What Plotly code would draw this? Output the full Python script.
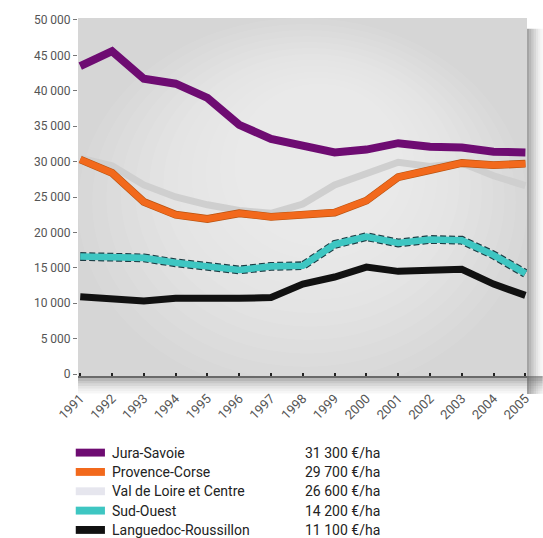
import plotly.graph_objects as go

years = list(range(1991, 2006))
series_names = ["Jura-Savoie", "Provence-Corse", "Val de Loire et Centre", "Sud-Ouest", "Languedoc-Roussillon"]
jura = [43500, 45600, 41700, 41000, 39000, 35200, 33200, 32200, 31300, 31700, 32600, 32100, 32000, 31400, 31300]
provence = [30300, 28400, 24300, 22500, 21900, 22700, 22200, 22400, 22800, 24500, 27800, 28800, 29800, 29500, 29700]
val_loire = [30500, 29400, 26700, 25000, 23900, 23100, 22700, 24000, 26700, 28300, 29900, 29300, 29800, 28000, 26600]
sud_ouest = [16600, 16500, 16400, 15700, 15200, 14700, 15200, 15300, 18300, 19400, 18500, 19000, 18900, 16800, 14200]
languedoc = [10900, 10700, 10300, 10700, 10600, 10700, 10800, 12700, 13700, 15100, 14500, 14700, 14800, 12700, 11100]
y_ticks = list(range(0, 50001, 5000))
colors = ["#6e0c72", "#f2691c", "#cfcfcf", "#3ec6c2", "#111111"]

def fmt(v):
    return f"{v:,}".replace(",", " ")

FONT = "Roboto, DejaVu Sans, sans-serif"

fig = go.Figure()

fig.add_trace(go.Scatter(x=years, y=val_loire, mode="lines",
                         line=dict(color=colors[2], width=7), hoverinfo="skip"))
fig.add_trace(go.Scatter(x=years, y=provence, mode="lines",
                         line=dict(color="#b9520f", width=7.8), hoverinfo="skip"))
fig.add_trace(go.Scatter(x=years, y=provence, mode="lines",
                         line=dict(color=colors[1], width=6.6), hoverinfo="skip"))
fig.add_trace(go.Scatter(x=years, y=languedoc, mode="lines",
                         line=dict(color=colors[4], width=7), hoverinfo="skip"))
fig.add_trace(go.Scatter(x=years, y=sud_ouest, mode="lines",
                         line=dict(color="#1d3d44", width=8.8, dash="6px,3px"), hoverinfo="skip"))
fig.add_trace(go.Scatter(x=years, y=sud_ouest, mode="lines",
                         line=dict(color=colors[3], width=6.6), hoverinfo="skip"))
fig.add_trace(go.Scatter(x=years, y=jura, mode="lines",
                         line=dict(color=colors[0], width=8), hoverinfo="skip"))

# soft lighter glow in the plot centre
n = 12
for k in range(n):
    f = k / n
    fig.add_shape(type="circle", xref="paper", yref="paper",
                  x0=0.0 + 0.38 * f, x1=1.0 - 0.30 * f,
                  y0=-0.05 + 0.45 * f, y1=1.0 - 0.2 * f,
                  fillcolor="white", opacity=0.07, line_width=0, layer="below")

# shadow right and bottom (soft gradient)
steps = [0.5, 0.4, 0.3, 0.22, 0.15, 0.09, 0.05]
for i, op in enumerate(steps):
    fig.add_shape(type="rect", xref="paper", yref="paper",
                  x0=1.0 + i * 0.005, x1=1.0 + (i + 1) * 0.005, y0=-0.05, y1=0.97,
                  fillcolor="#4a4a4a", opacity=op, line_width=0, layer="below")
    fig.add_shape(type="rect", xref="paper", yref="paper",
                  x0=0.0, x1=1.0 + (len(steps)) * 0.005, y0=-(i + 1) * 0.007, y1=-i * 0.007,
                  fillcolor="#4a4a4a", opacity=op, line_width=0, layer="below")

# legend built from the series
row_y0 = -0.214
row_step = 0.054
data_all = [jura, provence, val_loire, sud_ouest, languedoc]
for i, (name, col, data) in enumerate(zip(series_names, colors, data_all)):
    yc = row_y0 - i * row_step
    fig.add_shape(type="rect", xref="paper", yref="paper",
                  x0=-0.005, x1=0.06, y0=yc - 0.011, y1=yc + 0.011,
                  fillcolor=("#e6e6ee" if i == 2 else col), line_width=0)
    fig.add_annotation(xref="paper", yref="paper", x=0.072, y=yc, text=name,
                       showarrow=False, xanchor="left", yanchor="middle",
                       font=dict(family=FONT, size=14, color="#222222"))
    fig.add_annotation(xref="paper", yref="paper", x=0.502, y=yc,
                       text=f"{fmt(data[-1])} €/ha",
                       showarrow=False, xanchor="left", yanchor="middle",
                       font=dict(family=FONT, size=14, color="#222222"))

fig.update_layout(
    width=543, height=538,
    margin=dict(l=78, r=16, t=18, b=162),
    paper_bgcolor="white",
    plot_bgcolor="#d6d6d6",
    showlegend=False,
    font=dict(family=FONT, color="#555555"),
)
fig.update_xaxes(
    automargin=False,
    range=[1990.93, 2005.05], tickvals=years, ticktext=[str(y) for y in years],
    tickangle=-45, tickfont=dict(size=13, color="#555555"), ticklabelstandoff=8,
    showgrid=False, zeroline=False,
    showline=True, linecolor="#6a6a6a", linewidth=2,
    ticks="inside", ticklen=3, tickcolor="#222222", tickwidth=2,
)
fig.update_yaxes(
    automargin=False,
    range=[-280, 50280], tickvals=y_ticks, ticktext=[fmt(v) for v in y_ticks],
    tickfont=dict(size=12, color="#555555"),
    showgrid=False, zeroline=False, showline=False,
    ticks="outside", ticklen=4, tickcolor="#777777",
)

fig.write_html("out.html", config={"displayModeBar": False},
               post_script="document.body.style.margin='0';document.body.style.overflow='hidden';")
